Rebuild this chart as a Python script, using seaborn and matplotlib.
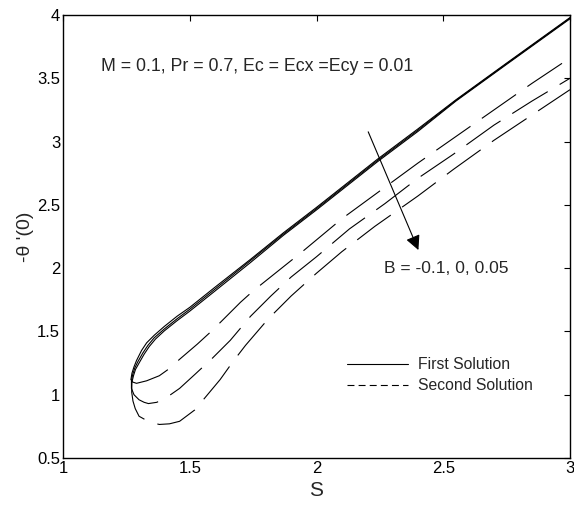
import matplotlib
matplotlib.use("Agg")
import matplotlib.pyplot as plt
from matplotlib.lines import Line2D
import seaborn as sns
import pandas as pd

# ---- data ----
B_values = ["-0.1", "0", "0.05"]

S_first_1 = [1.268, 1.272, 1.28, 1.29, 1.31, 1.33, 1.36, 1.40, 1.45, 1.50, 1.60, 1.74, 1.87, 2.00, 2.24, 2.40, 2.55, 2.75, 3.00]
T_first_1 = [1.12, 1.17, 1.22, 1.27, 1.35, 1.41, 1.47, 1.54, 1.62, 1.69, 1.85, 2.07, 2.28, 2.48, 2.86, 3.10, 3.33, 3.62, 3.98]
S_first_2 = [1.270, 1.275, 1.283, 1.295, 1.315, 1.335, 1.36, 1.40, 1.45, 1.50, 1.60, 1.74, 1.87, 2.00, 2.24, 2.40, 2.55, 2.75, 3.00]
T_first_2 = [1.11, 1.16, 1.21, 1.26, 1.33, 1.39, 1.45, 1.52, 1.60, 1.675, 1.835, 2.06, 2.27, 2.47, 2.85, 3.09, 3.325, 3.615, 3.975]
S_first_3 = [1.272, 1.278, 1.286, 1.30, 1.32, 1.34, 1.365, 1.40, 1.45, 1.50, 1.60, 1.74, 1.87, 2.00, 2.24, 2.40, 2.55, 2.75, 3.00]
T_first_3 = [1.10, 1.15, 1.20, 1.25, 1.32, 1.38, 1.44, 1.505, 1.585, 1.66, 1.82, 2.045, 2.26, 2.46, 2.84, 3.08, 3.32, 3.61, 3.97]

S_second_1 = [1.268, 1.275, 1.29, 1.33, 1.38, 1.415, 1.46, 1.53, 1.59, 1.63, 1.70, 1.75, 1.85, 1.95, 2.10, 2.25, 2.40, 2.55, 2.70, 2.85, 3.00]
T_second_1 = [1.12, 1.10, 1.09, 1.11, 1.15, 1.20, 1.28, 1.40, 1.51, 1.59, 1.73, 1.82, 1.98, 2.14, 2.39, 2.61, 2.83, 3.04, 3.25, 3.46, 3.66]
S_second_2 = [1.270, 1.270, 1.28, 1.30, 1.32, 1.337, 1.37, 1.41, 1.46, 1.52, 1.59, 1.66, 1.74, 1.82, 1.90, 2.00, 2.13, 2.27, 2.40, 2.54, 2.70, 2.85, 3.00]
T_second_2 = [1.11, 1.05, 1.00, 0.96, 0.94, 0.93, 0.94, 0.98, 1.05, 1.16, 1.29, 1.43, 1.62, 1.78, 1.93, 2.09, 2.31, 2.51, 2.71, 2.90, 3.13, 3.32, 3.50]
S_second_3 = [1.272, 1.271, 1.276, 1.285, 1.30, 1.34, 1.38, 1.42, 1.46, 1.52, 1.57, 1.62, 1.67, 1.72, 1.81, 1.90, 2.00, 2.10, 2.23, 2.40, 2.54, 2.70, 2.85, 3.00]
T_second_3 = [1.10, 1.02, 0.95, 0.89, 0.83, 0.785, 0.765, 0.77, 0.79, 0.88, 1.00, 1.12, 1.26, 1.39, 1.60, 1.78, 1.96, 2.13, 2.33, 2.57, 2.78, 3.01, 3.21, 3.41]

x_ticks = [1, 1.5, 2, 2.5, 3]
y_ticks = [0.5, 1, 1.5, 2, 2.5, 3, 3.5, 4]

first = [(S_first_1, T_first_1), (S_first_2, T_first_2), (S_first_3, T_first_3)]
second = [(S_second_1, T_second_1), (S_second_2, T_second_2), (S_second_3, T_second_3)]

# ---- style ----
sns.set_style("white")
plt.rcParams["font.family"] = ["Liberation Sans", "DejaVu Sans"]
plt.rcParams["lines.scale_dashes"] = False

fig = plt.figure(figsize=(5.74, 5.16), dpi=100)
ax = fig.add_axes([63 / 574, 1 - 458 / 516, (570 - 63) / 574, (458 - 15) / 516])

for (s, t), b in zip(first, B_values):
    df = pd.DataFrame({"S": s, "theta": t})
    sns.lineplot(data=df, x="S", y="theta", sort=False, estimator=None,
                 color="black", lw=0.8, ax=ax)
for (s, t), b in zip(second, B_values):
    df = pd.DataFrame({"S": s, "theta": t})
    sns.lineplot(data=df, x="S", y="theta", sort=False, estimator=None,
                 color="black", lw=0.8, ax=ax)
    ax.lines[-1].set_dashes((30, 10))

ax.set_xlim(1, 3)
ax.set_ylim(0.5, 4)
ax.set_xticks(x_ticks)
ax.set_xticklabels([f"{v:g}" for v in x_ticks])
ax.set_yticks(y_ticks)
ax.set_yticklabels([f"{v:g}" for v in y_ticks])
ax.tick_params(direction="in", length=4, width=0.8, top=True, right=True,
               labelsize=12, colors="black", pad=2)
for sp in ax.spines.values():
    sp.set_visible(True)
    sp.set_color("black")
    sp.set_linewidth(1.0)

ax.set_xlabel("S", fontsize=15, labelpad=4)
ax.set_ylabel("-θ '(0)", fontsize=14, labelpad=2)

ax.text(1.15, 3.59, "M = 0.1, Pr = 0.7, Ec = Ecx =Ecy = 0.01", fontsize=12.8,
        va="center", ha="left")
ax.text(2.265, 2.0, "B = -0.1, 0, 0.05", fontsize=12.6, va="center", ha="left")
ax.annotate("", xy=(2.402, 2.143), xytext=(2.204, 3.077),
            arrowprops=dict(arrowstyle="-|>", color="black", lw=0.8,
                            mutation_scale=22, shrinkA=0, shrinkB=0))

handles = [Line2D([], [], color="black", lw=0.8),
           Line2D([], [], color="black", lw=0.8, dashes=(5, 3))]
ax.legend(handles, ["First Solution", "Second Solution"], loc="upper left",
          bbox_to_anchor=(0.56, 0.228), frameon=False, fontsize=11.3,
          handlelength=3.9, handletextpad=0.6, borderpad=0, borderaxespad=0,
          labelspacing=0.4)

fig.savefig("out.png", dpi=100, facecolor="white")
